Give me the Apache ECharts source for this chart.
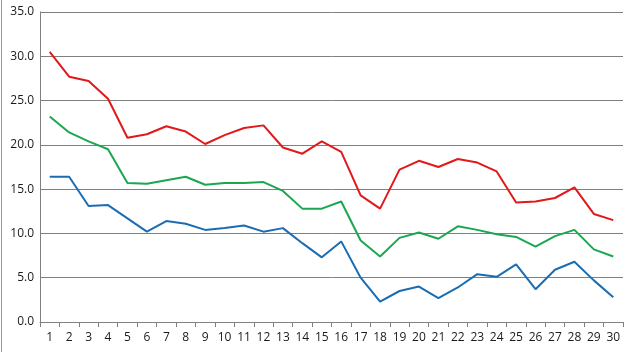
<!DOCTYPE html>
<html>
<head>
<meta charset="utf-8">
<script src="https://cdn.jsdelivr.net/npm/echarts@6/dist/echarts.min.js"></script>
<style>
  html, body { margin: 0; padding: 0; background: #fff; }
  #main { width: 630px; height: 352px; }
</style>
</head>
<body>
<div id="main"></div>
<script>
const days = Array.from({ length: 30 }, (_, i) => String(i + 1));
const redValues = [30.5, 27.7, 27.2, 25.2, 20.8, 21.2, 22.1, 21.5, 20.1, 21.1,
  21.9, 22.2, 19.7, 19.0, 20.4, 19.2, 14.3, 12.8, 17.2, 18.2,
  17.5, 18.4, 18.0, 17.0, 13.5, 13.6, 14.0, 15.2, 12.2, 11.5];
const greenValues = [23.2, 21.4, 20.4, 19.5, 15.7, 15.6, 16.0, 16.4, 15.5, 15.7,
  15.7, 15.8, 14.8, 12.8, 12.8, 13.6, 9.2, 7.4, 9.5, 10.1,
  9.4, 10.8, 10.4, 9.9, 9.6, 8.5, 9.7, 10.4, 8.2, 7.4];
const blueValues = [16.4, 16.4, 13.1, 13.2, 11.7, 10.2, 11.4, 11.1, 10.4, 10.6,
  10.9, 10.2, 10.6, 8.9, 7.3, 9.1, 5.0, 2.3, 3.5, 4.0,
  2.7, 3.9, 5.4, 5.1, 6.5, 3.7, 5.9, 6.8, 4.7, 2.8];

const myChart = echarts.init(document.getElementById("main"));

const lineSeries = (name, data, color) => ({
  name: name,
  type: "line",
  data: data,
  symbol: "none",
  lineStyle: { color: color, width: 2 },
  itemStyle: { color: color },
  animation: false,
});

const option = {
  backgroundColor: "#fff",
  animation: false,
  grid: {
    left: 40,
    right: 7,
    top: 12,
    bottom: 30,
  },
  xAxis: {
    type: "category",
    data: days,
    boundaryGap: true,
    axisLine: { lineStyle: { color: "#808080" } },
    axisTick: { show: true, length: 5, lineStyle: { color: "#808080" } },
    axisLabel: {
      color: "#1a1a1a",
      fontFamily: "Open Sans",
      fontSize: 12,
      margin: 10,
    },
  },
  yAxis: {
    type: "value",
    min: 0,
    max: 35,
    interval: 5,
    axisLine: { show: true, lineStyle: { color: "#808080" } },
    axisTick: { show: false },
    splitLine: { lineStyle: { color: "#808080", width: 1 } },
    axisLabel: {
      color: "#1a1a1a",
      fontFamily: "Open Sans",
      fontSize: 12,
      margin: 6,
      formatter: (v) => v.toFixed(1),
    },
  },
  graphic: [
    {
      type: "line",
      shape: { x1: 1.5, y1: 0, x2: 1.5, y2: 352 },
      style: { stroke: "#9a9a9a", lineWidth: 1 },
    },
  ],
  series: [
    lineSeries("red", redValues, "#e0191b"),
    lineSeries("green", greenValues, "#1aa750"),
    lineSeries("blue", blueValues, "#1b6db3"),
  ],
};
myChart.setOption(option);
</script>
</body>
</html>
